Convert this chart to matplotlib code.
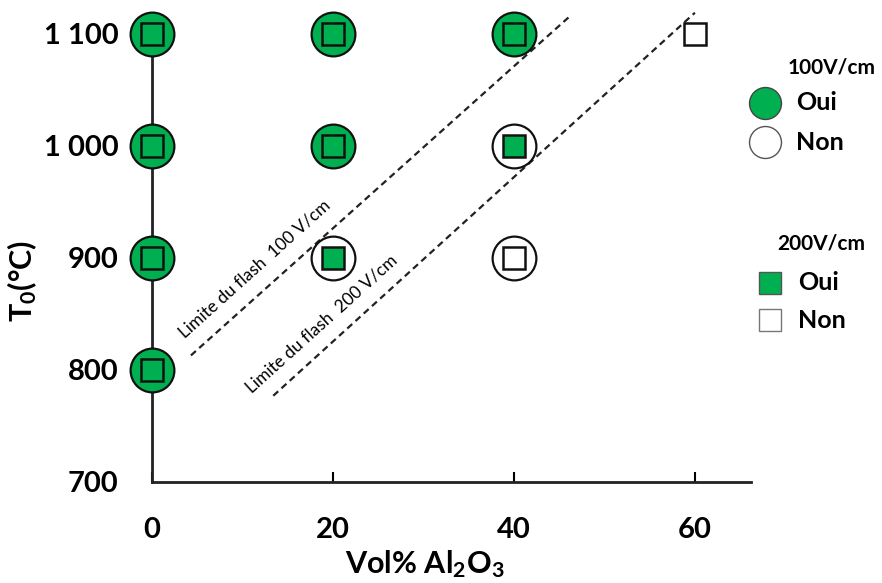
import matplotlib.pyplot as plt
from matplotlib.lines import Line2D

plt.rcParams['font.family'] = ['Lato', 'DejaVu Sans']
plt.rcParams['mathtext.default'] = 'regular'

# 100 V/cm (circles): x = vol% Al2O3, y = T0, flash yes/no
circ_x = [0, 0, 0, 0, 20, 20, 20, 40, 40, 40]
circ_y = [800, 900, 1000, 1100, 900, 1000, 1100, 900, 1000, 1100]
circ_flash = [True, True, True, True, False, True, True, False, False, True]

# 200 V/cm (squares)
sq_x = [0, 0, 0, 0, 20, 20, 20, 40, 40, 40, 60]
sq_y = [800, 900, 1000, 1100, 900, 1000, 1100, 900, 1000, 1100, 1100]
sq_flash = [True, True, True, True, True, True, True, False, True, True, False]

# flash limit lines (endpoints)
lim100_x = [4.3, 46.2]
lim100_y = [813, 1116]
lim200_x = [13.4, 60.0]
lim200_y = [777, 1119]

xticks = [0, 20, 40, 60]
yticks = [700, 800, 900, 1000, 1100]
ytick_labels = ['700', '800', '900', '1 000', '1 100']

green = '#00B050'

fig = plt.figure(figsize=(8.82, 5.83), dpi=100)
ax = fig.add_axes([152/882, 101/583, 599/882, 448/583])
ax.set_xlim(0, 66.2)
ax.set_ylim(700, 1100)

ax.plot(lim100_x, lim100_y, ls=(0, (3, 2)), color='#222222', lw=1.6,
        zorder=1, clip_on=False)
ax.plot(lim200_x, lim200_y, ls=(0, (3, 2)), color='#222222', lw=1.6,
        zorder=1, clip_on=False)

for x, y, f in zip(circ_x, circ_y, circ_flash):
    ax.plot(x, y, 'o', ms=31.5, mfc=green if f else 'white', mec='#111111',
            mew=1.6, clip_on=False, zorder=3)
for x, y, f in zip(sq_x, sq_y, sq_flash):
    ax.plot(x, y, 's', ms=15.5, mfc=green if f else 'white', mec='#111111',
            mew=1.8, clip_on=False, zorder=4)

ax.text(11.3, 890, 'Limite du flash  100 V/cm', rotation=42, ha='center',
        va='center', fontsize=12.5)
ax.text(18.7, 841, 'Limite du flash  200 V/cm', rotation=42, ha='center',
        va='center', fontsize=12.5)

for s in ['top', 'right']:
    ax.spines[s].set_visible(False)
for s in ['left', 'bottom']:
    ax.spines[s].set_linewidth(2)
    ax.spines[s].set_color('#222222')

ax.set_xticks(xticks)
ax.set_yticks(yticks)
ax.set_yticklabels(ytick_labels)
ax.tick_params(axis='x', direction='in', length=7, width=1.5, pad=25,
               labelsize=21)
ax.tick_params(axis='y', length=0, pad=24, labelsize=21)
for lab in ax.get_xticklabels() + ax.get_yticklabels():
    lab.set_fontweight('bold')

ax.set_xlabel('Vol% Al$_2$O$_3$', fontsize=22, fontweight='bold')
ax.set_ylabel('T$_0$(°C)', fontsize=22, fontweight='bold')
ax.xaxis.set_label_coords(0.456, -0.148)
ax.yaxis.set_label_coords(-0.188, 0.449)

# legend drawn by hand in figure coordinates
def fx(px):
    return px / 882

def fy(py):
    return 1 - py / 583

fig.text(fx(832), fy(68), '100V/cm', ha='center', va='center', fontsize=15,
         fontweight='bold')
fig.add_artist(Line2D([fx(765)], [fy(103)], marker='o', ms=23, mfc=green,
                      mec='#444444', mew=1))
fig.add_artist(Line2D([fx(765)], [fy(142)], marker='o', ms=23, mfc='white',
                      mec='#555555', mew=1))
fig.text(fx(796), fy(103), 'Oui', va='center', fontsize=18, fontweight='bold')
fig.text(fx(796), fy(142), 'Non', va='center', fontsize=18, fontweight='bold')

fig.text(fx(821), fy(243), '200V/cm', ha='center', va='center', fontsize=15,
         fontweight='bold')
fig.add_artist(Line2D([fx(770)], [fy(283)], marker='s', ms=16.5, mfc=green,
                      mec='#555555', mew=1))
fig.add_artist(Line2D([fx(770)], [fy(320)], marker='s', ms=16.5, mfc='white',
                      mec='#777777', mew=1))
fig.text(fx(798), fy(283), 'Oui', va='center', fontsize=18, fontweight='bold')
fig.text(fx(798), fy(320), 'Non', va='center', fontsize=18, fontweight='bold')

fig.savefig('out.png', dpi=100)
